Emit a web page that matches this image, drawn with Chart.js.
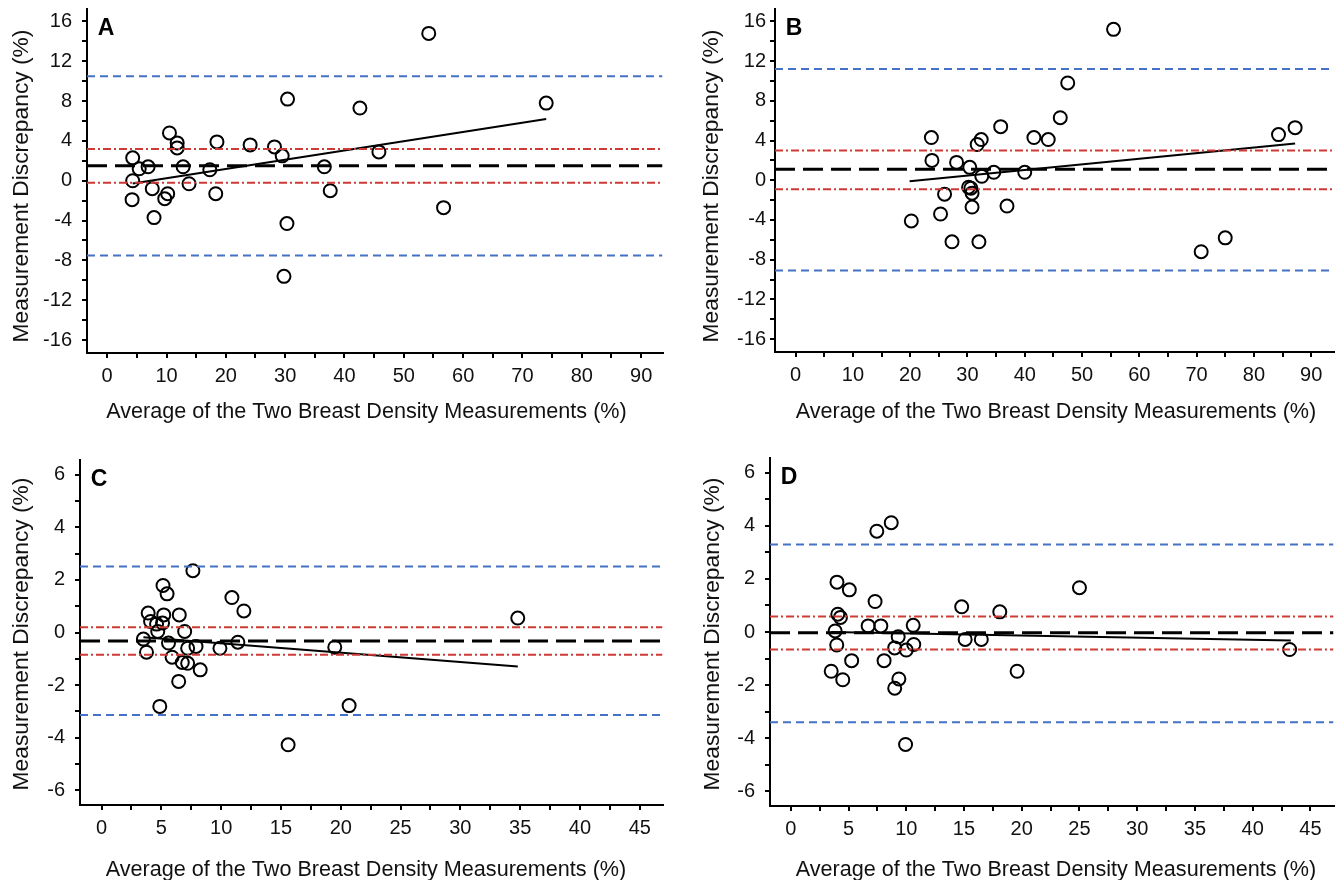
<!DOCTYPE html>
<html><head><meta charset="utf-8">
<script src="https://cdn.jsdelivr.net/npm/chart.js@4.4.1/dist/chart.umd.min.js"></script>
<style>
html,body{margin:0;padding:0;background:#fff;overflow:hidden;width:1342px;height:880px;position:relative;}
canvas{position:absolute;display:block;}
</style></head><body>
<canvas id="cA" width="671" height="440" style="left:0;top:0;width:671px;height:440px"></canvas>
<canvas id="cB" width="671" height="440" style="left:671px;top:0;width:671px;height:440px"></canvas>
<canvas id="cC" width="671" height="460" style="left:0;top:440px;width:671px;height:460px"></canvas>
<canvas id="cD" width="671" height="460" style="left:671px;top:440px;width:671px;height:460px"></canvas>
<script>
// ---------- text ----------
const X_TITLE = 'Average of the Two Breast Density Measurements (%)';
const Y_TITLE = 'Measurement Discrepancy (%)';
const FONT = "'Liberation Sans', Arial, Helvetica, sans-serif";

// ---------- tick labels ----------
const xTickLabelsAB = [0, 10, 20, 30, 40, 50, 60, 70, 80, 90];
const yTickLabelsAB = [-16, -12, -8, -4, 0, 4, 8, 12, 16];
const xTickLabelsCD = [0, 5, 10, 15, 20, 25, 30, 35, 40, 45];
const yTickLabelsCD = [-6, -4, -2, 0, 2, 4, 6];

// ---------- panel A ----------
const xA = [4.2, 4.3, 4.3, 5.4, 6.9, 7.6, 7.9, 9.7, 10.2, 10.5, 11.8, 11.8, 12.8, 13.8, 17.3, 18.3, 18.5, 24.1, 28.2, 29.5, 29.8, 30.3, 30.4, 36.6, 37.6, 42.6, 45.8, 54.2, 56.7, 74.0];
const yA = [-1.9, 2.3, 0.0, 1.2, 1.4, -0.8, -3.7, -1.8, -1.3, 4.8, 3.8, 3.3, 1.4, -0.3, 1.1, -1.3, 3.9, 3.6, 3.4, 2.5, -9.6, -4.3, 8.2, 1.4, -1.0, 7.3, 2.9, 14.8, -2.7, 7.8];
const meanA = 1.5;
const loaA = [10.5, -7.5];
const ciA = [3.2, -0.2];
const regXA = [4.3, 74.0];
const regYA = [-0.27, 6.2];

// ---------- panel B ----------
const xB = [20.2, 23.7, 23.8, 25.3, 26.0, 27.3, 28.1, 30.2, 30.4, 30.6, 30.8, 30.8, 31.7, 32.0, 32.4, 32.5, 34.6, 35.8, 36.9, 40.0, 41.6, 44.1, 46.2, 47.5, 55.5, 70.8, 75.0, 84.3, 87.2];
const yB = [-4.1, 4.3, 2.0, -3.4, -1.4, -6.2, 1.8, -0.7, 1.3, -0.8, -1.3, -2.7, 3.6, -6.2, 4.1, 0.4, 0.8, 5.4, -2.6, 0.8, 4.3, 4.1, 6.3, 9.8, 15.2, -7.2, -5.8, 4.6, 5.3];
const meanB = 1.1;
const loaB = [11.2, -9.1];
const ciB = [3.0, -0.9];
const regXB = [19.9, 87.2];
const regYB = [-0.1, 3.7];

// ---------- panel C ----------
const xC = [3.5, 3.76, 3.9, 4.1, 4.6, 4.7, 4.87, 5.1, 5.14, 5.2, 5.48, 5.6, 5.9, 6.45, 6.5, 6.75, 6.95, 7.2, 7.2, 7.64, 7.9, 8.25, 9.9, 10.9, 11.4, 11.9, 15.6, 19.5, 20.7, 34.8];
const yC = [-0.25, -0.75, 0.74, 0.42, 0.32, 0.04, -2.81, 0.36, 1.79, 0.67, 1.47, -0.4, -0.94, -1.86, 0.67, -1.14, 0.04, -0.6, -1.17, 2.35, -0.53, -1.42, -0.6, 1.33, -0.37, 0.82, -4.27, -0.56, -2.78, 0.55];
const meanC = -0.32;
const loaC = [2.51, -3.14];
const ciC = [0.2, -0.85];
const regXC = [3.5, 34.8];
const regYC = [-0.18, -1.29];

// ---------- panel D ----------
const xD = [3.5, 3.84, 3.98, 4.0, 4.07, 4.3, 4.5, 5.07, 5.27, 6.7, 7.3, 7.45, 7.8, 8.08, 8.7, 9.0, 9.0, 9.3, 9.36, 9.94, 10.0, 10.6, 10.65, 14.8, 15.1, 16.5, 18.1, 19.6, 25.0, 43.2];
const yD = [-1.48, 0.04, -0.49, 1.88, 0.67, 0.55, -1.8, 1.59, -1.08, 0.23, 1.15, 3.8, 0.23, -1.08, 4.12, -0.6, -2.12, -0.18, -1.77, -4.24, -0.68, 0.25, -0.47, 0.95, -0.28, -0.28, 0.76, -1.48, 1.67, -0.66];
const meanD = -0.03;
const loaD = [3.3, -3.4];
const ciD = [0.58, -0.66];
const regXD = [3.5, 43.3];
const regYD = [0.0, -0.32];

// ---------- styles ----------
const BLUE = '#4472c4';
const RED = '#d03a34';

const annotPlugin = {
  id: 'panelText',
  afterDraw(chart, args, o) {
    const {ctx, chartArea} = chart;
    ctx.save();
    ctx.fillStyle = '#000';
    ctx.textAlign = 'center';
    ctx.textBaseline = 'middle';
    ctx.font = 'bold 23px ' + FONT;
    ctx.fillText(o.letter, chartArea.left + 19, chartArea.top + 20);
    ctx.fillStyle = '#111';
    ctx.font = o.xSize + 'px ' + FONT;
    ctx.fillText(X_TITLE, o.xTitle[0], o.xTitle[1]);
    ctx.font = o.ySize + 'px ' + FONT;
    ctx.translate(o.yTitle[0], o.yTitle[1]);
    ctx.rotate(-Math.PI / 2);
    ctx.fillText(Y_TITLE, 0, 0);
    ctx.restore();
  }
};

function hasLabel(list, v) { return list.some(t => Math.abs(t - v) < 1e-6); }

function buildPanel(id, p, L) {
  const pts = p.x.map((v, i) => ({x: v, y: p.y[i]}));
  const span = v => [{x: p.xMin, y: v}, {x: p.xMax, y: v}];
  const line = (data, color, dash, w) => ({
    data, showLine: true, borderColor: color, backgroundColor: color,
    borderDash: dash, borderWidth: w, pointRadius: 0, pointHoverRadius: 0,
    fill: false, tension: 0, borderCapStyle: 'butt'
  });
  const datasets = [
    line(span(p.loa[0]), BLUE, [8, 5], 2),
    line(span(p.loa[1]), BLUE, [8, 5], 2),
    line(span(p.ci[0]), RED, [8, 3, 2, 3], 2),
    line(span(p.ci[1]), RED, [8, 3, 2, 3], 2),
    line(span(p.mean), '#000', [20, 8], 3),
    line(p.regX.map((v, i) => ({x: v, y: p.regY[i]})), '#000', [], 2),
    {data: pts, showLine: false, pointRadius: 6.5, pointHoverRadius: 6.5, pointBorderWidth: 2,
     pointBorderColor: '#000', pointBackgroundColor: 'rgba(0,0,0,0)', borderColor: '#000', backgroundColor: 'rgba(0,0,0,0)'}
  ];
  const tickFont = {family: FONT, size: 20};
  new Chart(document.getElementById(id), {
    type: 'scatter',
    data: {datasets},
    plugins: [annotPlugin],
    options: {
      responsive: false, maintainAspectRatio: false, devicePixelRatio: 1,
      animation: false, events: [],
      layout: {padding: {left: 0, top: L.top, right: L.right, bottom: 0}},
      plugins: {legend: {display: false}, tooltip: {enabled: false}, title: {display: false},
                panelText: {letter: p.letter, xTitle: L.xTitle, yTitle: L.yTitle, xSize: 21.6, ySize: 22.8}},
      scales: {
        x: {
          type: 'linear', position: 'bottom', min: p.xMin, max: p.xMax,
          ticks: {stepSize: p.xStep, autoSkip: false, maxRotation: 0, minRotation: 0, includeBounds: false,
                  color: '#111', font: tickFont, padding: 6,
                  callback: v => hasLabel(p.xLabels, v) ? String(v) : ''},
          grid: {drawOnChartArea: false, drawTicks: true, tickLength: 5, color: '#000', lineWidth: 2},
          border: {display: true, color: '#000', width: 2},
          title: {display: false},
          afterFit(s) { s.height = L.xH; s.paddingLeft = 0; s.paddingRight = 0; }
        },
        y: {
          type: 'linear', position: 'left', min: p.yMin, max: p.yMax,
          ticks: {stepSize: p.yStep, autoSkip: false, includeBounds: false,
                  color: '#111', font: tickFont, padding: L.yTickPad,
                  callback: v => hasLabel(p.yLabels, v) ? String(v) : ''},
          grid: {drawOnChartArea: false, drawTicks: true, tickLength: 5, color: '#000', lineWidth: 2},
          border: {display: true, color: '#000', width: 2},
          title: {display: false},
          afterFit(s) { s.width = L.yW; s.paddingTop = 0; s.paddingBottom = 0; }
        }
      }
    }
  });
}

buildPanel('cA', {letter: 'A', x: xA, y: yA, mean: meanA, loa: loaA, ci: ciA, regX: regXA, regY: regYA,
  xMin: -3.4, xMax: 93.6, xStep: 5, xLabels: xTickLabelsAB, yMin: -17.3, yMax: 17.3, yStep: 2, yLabels: yTickLabelsAB},
  {top: 7, right: 6, yW: 87, xH: 87, yTickPad: 10, xTitle: [366.5, 412], yTitle: [22, 186]});
buildPanel('cB', {letter: 'B', x: xB, y: yB, mean: meanB, loa: loaB, ci: ciB, regX: regXB, regY: regYB,
  xMin: -3.6, xMax: 93.9, xStep: 5, xLabels: xTickLabelsAB, yMin: -17.3, yMax: 17.3, yStep: 2, yLabels: yTickLabelsAB},
  {top: 7, right: 4, yW: 104, xH: 88, yTickPad: 4, xTitle: [385, 412], yTitle: [41, 186]});
buildPanel('cC', {letter: 'C', x: xC, y: yC, mean: meanC, loa: loaC, ci: ciC, regX: regXC, regY: regYC,
  xMin: -1.8, xMax: 46.9, xStep: 2.5, xLabels: xTickLabelsCD, yMin: -6.56, yMax: 6.56, yStep: 1, yLabels: yTickLabelsCD},
  {top: 20, right: 6, yW: 80, xH: 95, yTickPad: 10, xTitle: [366, 430], yTitle: [22, 194]});
buildPanel('cD', {letter: 'D', x: xD, y: yD, mean: meanD, loa: loaD, ci: ciD, regX: regXD, regY: regYD,
  xMin: -1.8, xMax: 47.0, xStep: 2.5, xLabels: xTickLabelsCD, yMin: -6.56, yMax: 6.56, yStep: 1, yLabels: yTickLabelsCD},
  {top: 18, right: 4, yW: 99, xH: 94, yTickPad: 10, xTitle: [385, 430], yTitle: [42, 194]});
</script>
</body></html>
